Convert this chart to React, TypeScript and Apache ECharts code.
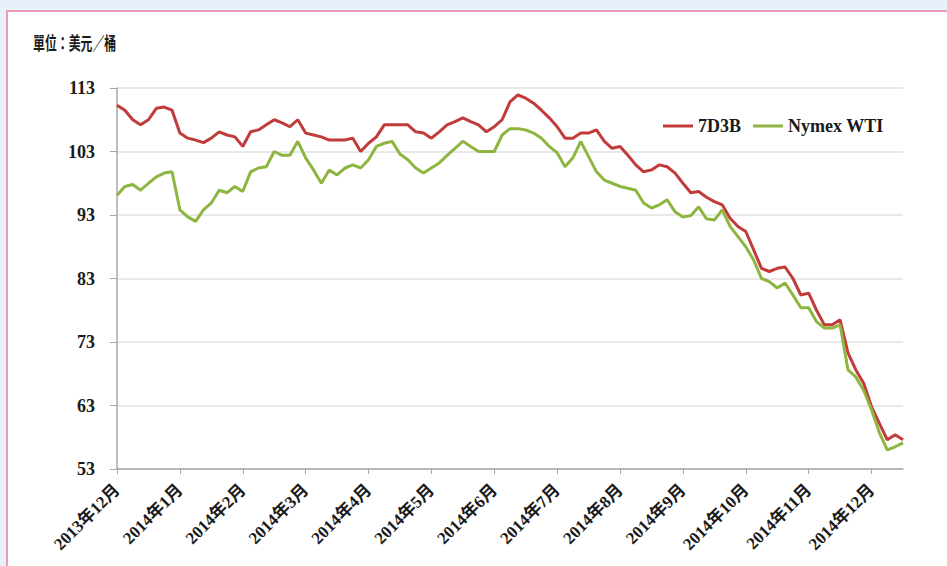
import React, { useEffect, useRef } from 'react';
import * as echarts from 'echarts';

const monthLabels = [
  '2013年12月', '2014年1月', '2014年2月', '2014年3月', '2014年4月', '2014年5月', '2014年6月',
  '2014年7月', '2014年8月', '2014年9月', '2014年10月', '2014年11月', '2014年12月',
];
const pointsPerMonth = 8;

const series7D3B = [
  110.3, 109.5, 108, 107.2, 108, 109.8, 110, 109.5,
  105.9, 105.1, 104.8, 104.4, 105.1, 106.1, 105.6, 105.3,
  103.8, 106.1, 106.4, 107.2, 108, 107.5, 106.9, 108,
  105.9, 105.6, 105.3, 104.8, 104.8, 104.8, 105.1, 103,
  104.3, 105.3, 107.2, 107.2, 107.2, 107.2, 106.1, 105.9,
  105.1, 106.1, 107.2, 107.7, 108.3, 107.7, 107.2, 106.1,
  106.9, 108, 110.8, 111.9, 111.4, 110.6, 109.5, 108.3,
  106.9, 105.1, 105.1, 105.9, 105.9, 106.4, 104.6, 103.5,
  103.8, 102.4, 100.9, 99.8, 100.1, 100.9, 100.6, 99.6,
  98, 96.5, 96.7, 95.8, 95.1, 94.6, 92.5, 91.2,
  90.4, 87.5, 84.6, 84.1, 84.6, 84.8, 83, 80.4,
  80.7, 78, 75.7, 75.7, 76.5, 71.3, 68.6, 66.5,
  62.8, 60.2, 57.6, 58.4, 57.6,
];

const seriesWTI = [
  96.1, 97.5, 97.8, 96.9, 98, 99, 99.6, 99.8,
  93.8, 92.7, 92, 93.8, 94.9, 96.9, 96.5, 97.5,
  96.7, 99.8, 100.4, 100.6, 103, 102.4, 102.4, 104.6,
  102, 100.1, 98, 100.1, 99.3, 100.4, 100.9, 100.4,
  101.7, 103.8, 104.3, 104.6, 102.6, 101.7, 100.4, 99.6,
  100.4, 101.2, 102.4, 103.5, 104.6, 103.8, 103, 103,
  103, 105.6, 106.6, 106.6, 106.4, 105.9, 105.1, 103.8,
  102.8, 100.6, 102, 104.6, 102.2, 99.8, 98.5, 98,
  97.5, 97.2, 96.9, 94.9, 94.1, 94.6, 95.4, 93.5,
  92.7, 92.9, 94.3, 92.4, 92.2, 93.8, 91.2, 89.6,
  88, 85.9, 83, 82.5, 81.5, 82.3, 80.4, 78.4,
  78.4, 76.2, 75.2, 75.2, 75.7, 68.6, 67.5, 65.4,
  62.3, 58.7, 56, 56.5, 57.1,
];

const yTicks = { min: 53, max: 113, interval: 10 };

const serif = '"Liberation Serif", "Times New Roman", "Noto Sans CJK TC", serif';

export default function App() {
  const ref = useRef<HTMLDivElement>(null);
  useEffect(() => {
    const chart = echarts.init(ref.current as HTMLDivElement, null, { renderer: 'svg' });
    const categories = series7D3B.map((_, i) => 'p' + i);
    const showIdx = (index: number) => index % pointsPerMonth === 0;
    chart.setOption({
      animation: false,
      grid: { left: 117, right: 44, top: 88, bottom: 97, outerBoundsMode: 'none' },
      graphic: [
        {
          type: 'text',
          x: 33,
          y: 33,
          scaleX: 0.66,
          style: {
            text: '單位：美元／桶',
            font: 'bold 18px "Noto Sans CJK TC", serif',
            fill: '#1a1a1a',
            verticalAlign: 'top',
          },
        },
      ],
      legend: {
        left: 658,
        top: 112,
        icon: 'rect',
        itemWidth: 30,
        itemHeight: 3,
        itemGap: 12,
        data: ['7D3B', 'Nymex WTI'],
        textStyle: { fontFamily: serif, fontWeight: 'bold', fontSize: 18, color: '#1a1a1a' },
      },
      xAxis: {
        type: 'category',
        boundaryGap: false,
        data: categories,
        axisLine: { lineStyle: { color: '#a8a8a8', width: 1.5 } },
        axisTick: { show: true, interval: showIdx, length: 5, lineStyle: { color: '#a8a8a8' } },
        axisLabel: {
          interval: showIdx,
          rotate: 45,
          margin: 18,
          formatter: (_v: string, index: number) => monthLabels[index / pointsPerMonth] ?? '',
          fontFamily: serif,
          fontWeight: 'bold',
          fontSize: 17,
          color: '#1a1a1a',
        },
        splitLine: { show: false },
      },
      yAxis: {
        type: 'value',
        min: yTicks.min,
        max: yTicks.max,
        interval: yTicks.interval,
        axisLine: { show: true, lineStyle: { color: '#a8a8a8', width: 1.5 } },
        axisTick: { show: true, length: 7, lineStyle: { color: '#a8a8a8' } },
        axisLabel: {
          margin: 22,
          fontFamily: serif,
          fontWeight: 'bold',
          fontSize: 18,
          color: '#1a1a1a',
        },
        splitLine: { lineStyle: { color: '#e2e2e2', width: 1.5 } },
      },
      series: [
        {
          name: '7D3B',
          type: 'line',
          data: series7D3B,
          showSymbol: false,
          lineStyle: { color: '#c23b3b', width: 3 },
          itemStyle: { color: '#c23b3b' },
        },
        {
          name: 'Nymex WTI',
          type: 'line',
          data: seriesWTI,
          showSymbol: false,
          lineStyle: { color: '#8db53f', width: 3 },
          itemStyle: { color: '#8db53f' },
        },
      ],
    });
    return () => chart.dispose();
  }, []);
  return (
    <div style={{ position: 'fixed', left: 0, top: 0, width: 947, height: 566, background: '#e8f1f9', overflow: 'hidden' }}>
      <div
        style={{
          position: 'absolute',
          left: 6,
          top: 10,
          width: 960,
          height: 600,
          background: '#ffffff',
          borderTop: '2px solid #e99ab5',
          borderLeft: '2px solid #e99ab5',
        }}
      />
      <div ref={ref} style={{ position: 'absolute', left: 0, top: 0, width: 947, height: 566 }} />
    </div>
  );
}
